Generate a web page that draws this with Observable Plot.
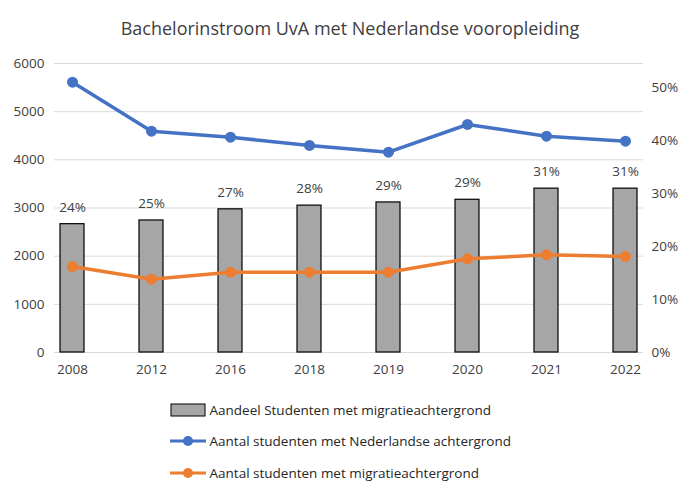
<!DOCTYPE html>
<html><head><meta charset="utf-8">
<script src="https://cdn.jsdelivr.net/npm/d3@7"></script>
<script src="https://cdn.jsdelivr.net/npm/@observablehq/plot@0.6"></script>
<style>
body{margin:0;background:#fff;font-family:"Open Sans",sans-serif;}
#t{height:45px;line-height:56px;text-align:center;font-size:18px;color:#404040;}
.lg{position:absolute;left:170px;font-size:13.5px;color:#262626;display:flex;align-items:center;}
</style></head><body>
<div id="t">Bachelorinstroom UvA met Nederlandse vooropleiding</div>
<div id="c"></div>
<div class="lg" style="top:401px"><svg width="36" height="14"><rect x="1" y="1" width="34" height="12" fill="#a6a6a6" stroke="#000"/></svg>&nbsp;Aandeel Studenten met migratieachtergrond</div>
<div class="lg" style="top:432px"><svg width="36" height="14"><line x1="0" x2="36" y1="7" y2="7" stroke="#4472c4" stroke-width="3"/><circle cx="18" cy="7" r="5" fill="#4472c4"/></svg>&nbsp;Aantal studenten met Nederlandse achtergrond</div>
<div class="lg" style="top:464px"><svg width="36" height="14"><line x1="0" x2="36" y1="7" y2="7" stroke="#ed7d31" stroke-width="3"/><circle cx="18" cy="7" r="5" fill="#ed7d31"/></svg>&nbsp;Aantal studenten met migratieachtergrond</div>
<script>
const years = ["2008","2012","2016","2018","2019","2020","2021","2022"];
const share = [0.242,0.249,0.270,0.277,0.283,0.288,0.309,0.309];
const shareLabels = ["24%","25%","27%","28%","29%","29%","31%","31%"];
const dutch = [5612,4595,4470,4298,4158,4734,4491,4387];
const migr = [1785,1522,1667,1667,1667,1945,2028,1993];
const rightTicks = [0,0.1,0.2,0.3,0.4,0.5];
const RMAX = 0.545, LMAX = 6000;
const toL = p => p*LMAX/RMAX;
const rows = years.map((y,i)=>({y,share:share[i],lab:shareLabels[i],dutch:dutch[i],migr:migr[i]}));
const chart = Plot.plot({
  width:700,height:340,marginTop:18,marginBottom:33,marginLeft:54,marginRight:57,
  style:{fontFamily:"Open Sans, sans-serif",fontSize:"13px",color:"#404040"},
  x:{type:"band",domain:years,paddingInner:0.7,paddingOuter:0.05,label:null},
  y:{domain:[0,LMAX],label:null},
  marks:[
    Plot.gridY(d3.range(0,6001,1000),{stroke:"#d9d9d9",strokeOpacity:1}),
    Plot.axisY(d3.range(0,6001,1000),{tickSize:0,tickPadding:10,label:null,fontSize:13.5,tickFormat:d=>String(d)}),
    Plot.axisY(rightTicks.map(toL),{anchor:"right",tickSize:0,tickPadding:8,label:null,fontSize:13.5,tickFormat:d=>Math.round(d/LMAX*RMAX*100)+"%"}),
    Plot.axisX({tickSize:0,tickPadding:12,label:null,fontSize:13.5}),
    Plot.barY(rows,{x:"y",y:d=>toL(d.share),fill:"#a6a6a6",stroke:"#000",strokeWidth:1.2}),
    Plot.text(rows,{x:"y",y:d=>toL(d.share),text:"lab",dy:-17,fontSize:13.5,fill:"#404040"}),
    Plot.line(rows,{x:"y",y:"dutch",stroke:"#4472c4",strokeWidth:3.5}),
    Plot.dot(rows,{x:"y",y:"dutch",fill:"#4472c4",r:5.5}),
    Plot.line(rows,{x:"y",y:"migr",stroke:"#ed7d31",strokeWidth:3.5}),
    Plot.dot(rows,{x:"y",y:"migr",fill:"#ed7d31",r:5.5})
  ]
});
document.getElementById("c").append(chart);
</script></body></html>
